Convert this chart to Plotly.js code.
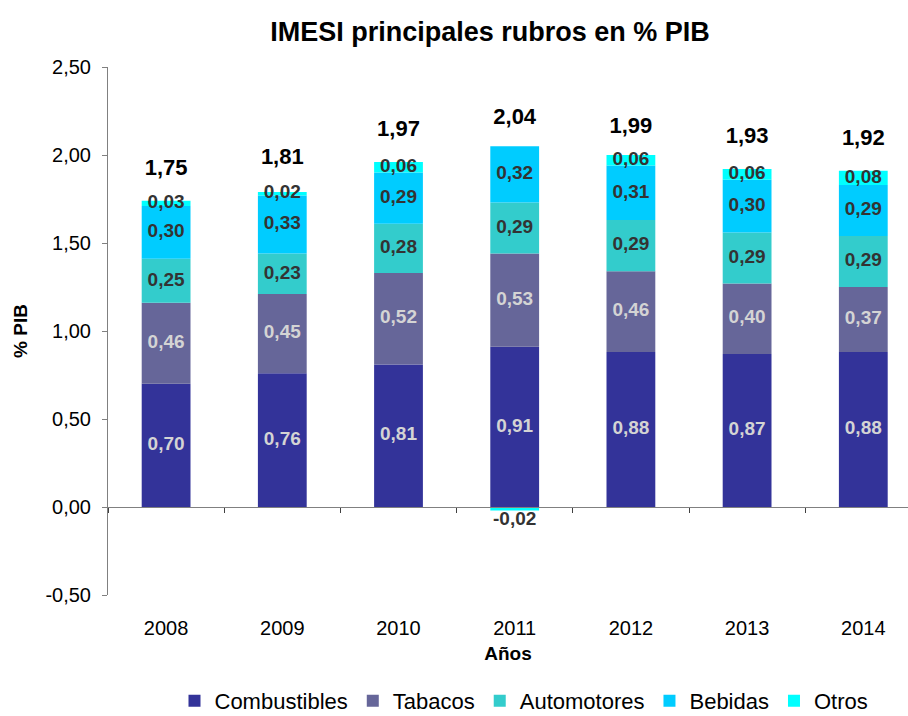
<!DOCTYPE html>
<html>
<head>
<meta charset="utf-8">
<script src="https://cdn.plot.ly/plotly-3.0.1.min.js"></script>
<style>html,body{margin:0;padding:0;background:#fff;}#chart{width:908px;height:716px;}</style>
</head>
<body>
<div id="chart"></div>
<script>
const years = ['2008','2009','2010','2011','2012','2013','2014'];
const combustibles = [0.70, 0.76, 0.81, 0.91, 0.88, 0.87, 0.88];
const tabacos      = [0.46, 0.45, 0.52, 0.53, 0.46, 0.40, 0.37];
const automotores  = [0.25, 0.23, 0.28, 0.29, 0.29, 0.29, 0.29];
const bebidas      = [0.30, 0.33, 0.29, 0.32, 0.31, 0.30, 0.29];
const otros        = [0.03, 0.02, 0.06, -0.02, 0.06, 0.06, 0.08];
const totales      = [1.75, 1.81, 1.97, 2.04, 1.99, 1.93, 1.92];
const yTickVals    = [-0.5, 0, 0.5, 1.0, 1.5, 2.0, 2.5];
const yTickText    = ['-0,50','0,00','0,50','1,00','1,50','2,00','2,50'];

const seriesNames  = ['Combustibles','Tabacos','Automotores','Bebidas','Otros'];
const seriesValues = [combustibles, tabacos, automotores, bebidas, otros];
const seriesColors = ['#333399','#666699','#33CCCC','#00CCFF','#00FFFF'];
const labelColors  = ['#d4d4d4','#d4d4d4','#333333','#333333','#333333'];

const FONT = 'Liberation Sans, Arial, sans-serif';
const fmt = v => v.toFixed(2).replace('.', ',');

const traces = [];
seriesNames.forEach((name, i) => {
  traces.push({
    type: 'bar', name: name, x: years, y: seriesValues[i],
    xaxis: 'x', yaxis: 'y', width: 0.42,
    marker: {color: seriesColors[i], line: {width: 0}},
    hoverinfo: 'skip'
  });
});

// label positions derived from the stacked data (relative mode)
const posBase = years.map(() => 0), negBase = years.map(() => 0);
seriesValues.forEach((vals, i) => {
  const ys = [], pos = [];
  vals.forEach((v, j) => {
    if (v >= 0) { ys.push(posBase[j] + v / 2); pos.push('middle center'); posBase[j] += v; }
    else { negBase[j] += v; ys.push(negBase[j]); pos.push('bottom center'); }
  });
  traces.push({
    type: 'scatter', mode: 'text', x: years, y: ys,
    text: vals.map(fmt), textposition: pos,
    textfont: {family: FONT, size: 19, color: labelColors[i], weight: 'bold'},
    xaxis: 'x', yaxis: 'y', showlegend: false, hoverinfo: 'skip', cliponaxis: false
  });
});

// totals above the stacks (invisible marker pushes the text up); also carries bottom axis categories
traces.push({
  type: 'scatter', mode: 'markers+text', x: years, y: totales,
  text: totales.map(fmt), textposition: 'top center',
  textfont: {family: FONT, size: 22, color: '#000', weight: 'bold'},
  marker: {size: 28, opacity: 0},
  xaxis: 'x2', yaxis: 'y', showlegend: false, hoverinfo: 'skip', cliponaxis: false
});

const xr = [-0.5, -0.5 + 800 / 116.2];
const layout = {
  width: 908, height: 716,
  margin: {l: 108, r: 0, t: 67, b: 121},
  paper_bgcolor: '#fff', plot_bgcolor: '#fff',
  separators: ',.',
  barmode: 'relative',
  font: {family: FONT, size: 20, color: '#000'},
  title: {text: 'IMESI principales rubros en % PIB', x: 490 / 908, xanchor: 'center',
          xref: 'container', yref: 'container', y: 1 - 32 / 716, yanchor: 'middle',
          font: {family: FONT, size: 27, color: '#000', weight: 'bold'}},
  xaxis: {type: 'category', range: xr, anchor: 'free', position: 1 / 6,
          showline: true, linecolor: '#808080', linewidth: 1,
          ticks: 'outside', tickson: 'boundaries', ticklen: 5, tickcolor: '#404040',
          showticklabels: false, showgrid: false, zeroline: false, fixedrange: true},
  xaxis2: {type: 'category', range: xr, overlaying: 'x', anchor: 'y', side: 'bottom',
           showline: false, showgrid: false, zeroline: false,
           ticks: 'outside', ticklen: 15, tickcolor: 'rgba(0,0,0,0)',
           tickfont: {family: FONT, size: 20, color: '#000'},
           title: {text: 'Años', font: {family: FONT, size: 19, color: '#000', weight: 'bold'}, standoff: 8}},
  yaxis: {range: [-0.5, 2.5], tickmode: 'array', tickvals: yTickVals, ticktext: yTickText,
          showline: true, linecolor: '#808080', linewidth: 1,
          ticks: 'outside', ticklen: 5, tickcolor: '#808080', ticklabelstandoff: 7,
          showgrid: false, zeroline: false,
          tickfont: {family: FONT, size: 20, color: '#000'},
          title: {text: '% PIB', standoff: 12, font: {family: FONT, size: 19, color: '#000', weight: 'bold'}}},
  legend: {orientation: 'h', x: 524 / 908, xanchor: 'center', xref: 'container', yref: 'container',
           y: 1 - 701 / 716, yanchor: 'middle', traceorder: 'normal',
           font: {family: FONT, size: 22, color: '#000'}, itemwidth: 30},
  showlegend: true
};

Plotly.newPlot('chart', traces, layout, {staticPlot: true});
</script>
</body>
</html>
